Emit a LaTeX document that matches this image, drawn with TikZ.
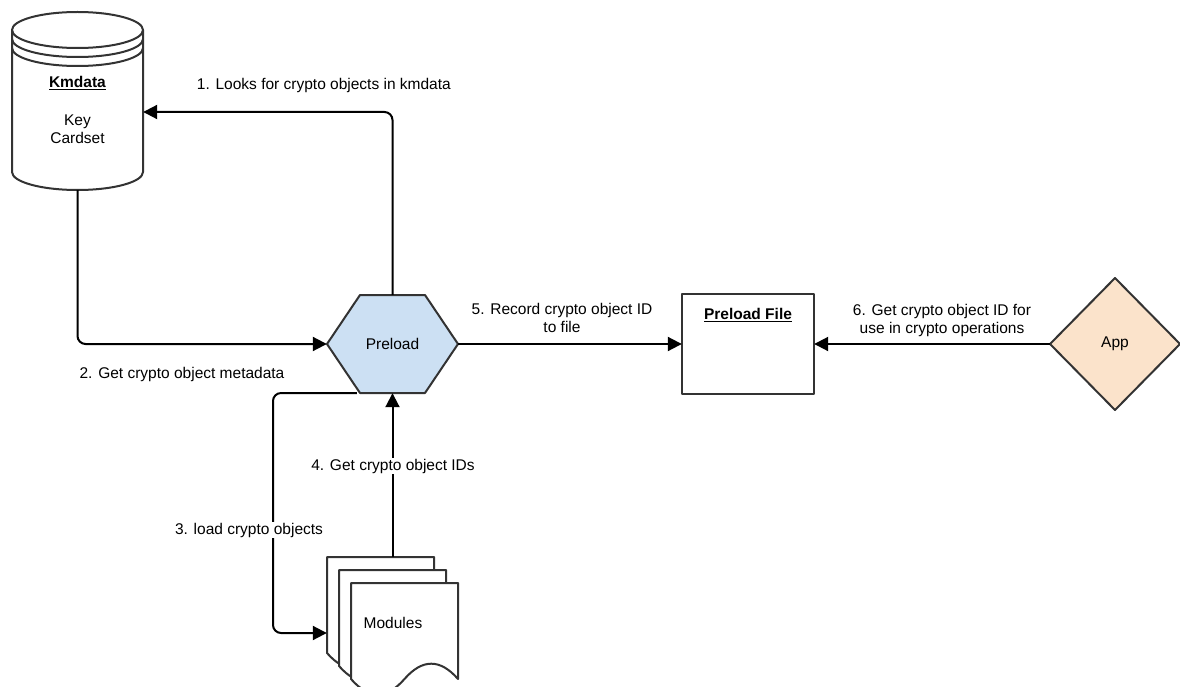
\documentclass[tikz,border=0pt]{standalone}
\usepackage{fontspec}
\setmainfont{Liberation Sans}
\usetikzlibrary{arrows.meta,calc}
\definecolor{hexfill}{HTML}{CCE0F3}
\definecolor{appfill}{HTML}{FBE3CB}
\definecolor{edge}{HTML}{333333}
\begin{document}
\begin{tikzpicture}[x=1pt,y=-1pt,
  every node/.style={font=\fontsize{15.5}{18}\selectfont, text=black, inner sep=0pt},
  shapeline/.style={draw=edge, line width=2pt, line join=round},
  conn/.style={draw=black, line width=2pt, rounded corners=8pt, -{Triangle[length=14pt,width=14pt]}},
  lbl/.style={align=center, fill=white, inner sep=1pt},
  docpic/.pic={
    \path[shapeline, fill=white] (0,0) -- (107,0) -- (107,96)
      .. controls (89.2,75.6) and (71.3,75.6) .. (53.5,96)
      .. controls (35.7,116.4) and (17.8,116.4) .. (0,96) -- cycle;
  }
]
\useasboundingbox (0,0) rectangle (1180,687);
\begin{scope}
\clip (0,0) rectangle (1180,687);

% ---- Kmdata cylinder (datastore) ----
\path[shapeline, fill=white] (12,30) -- (12,172) arc[start angle=180, end angle=0, x radius=65.5, y radius=18]
  -- (143,30) arc[start angle=0, end angle=-180, x radius=65.5, y radius=18] -- cycle;
\draw[shapeline] (12,30) arc[start angle=180, end angle=0, x radius=65.5, y radius=18];
\draw[shapeline] (12,39) arc[start angle=180, end angle=0, x radius=65.5, y radius=18];
\draw[shapeline] (12,48) arc[start angle=180, end angle=0, x radius=65.5, y radius=18];
\node[minimum width=131pt, minimum height=178pt] (km) at (77.5,101) {};
\node (kmt) at (77.5,83) {\underline{\textbf{Kmdata}}};
\node[align=center] (kmb) at (77.5,129) {Key\\Cardset};

% ---- Preload hexagon ----
\path[shapeline, fill=hexfill] (327,344) -- (360,295) -- (425,295) -- (458,344) -- (425,393) -- (360,393) -- cycle;
\node[minimum width=131pt, minimum height=98pt] (pre) at (392.5,344) {Preload};

% ---- Preload File box ----
\path[shapeline, fill=white] (682,294) rectangle (814,394);
\node[minimum width=132pt, minimum height=100pt] (pf) at (748,344) {};
\node (pft) at (748,315) {\underline{\textbf{Preload File}}};

% ---- App diamond ----
\path[shapeline, fill=appfill] (1050,344) -- (1115,278) -- (1180,344) -- (1115,410) -- cycle;
\node[minimum width=130pt, minimum height=132pt] (app) at (1115,344) {App};

% ---- Modules (multi document) ----
\pic at (327,557) {docpic};
\pic at (339,570) {docpic};
\pic at (351,583) {docpic};
\node[minimum width=131pt, minimum height=136pt] (mod) at (392.5,625) {};
\node (modt) at (393,623) {Modules};

% ---- connectors ----
\draw[conn] (pre.north) |- ([yshift=-11pt]km.east);
\draw[conn] (km.south) |- (pre.west);
\draw[conn] ([xshift=30pt]pre.south west) -- (273,393) -- (273,633) -- ([yshift=-8pt]mod.west);
\draw[conn] (mod.north) -- (pre.south);
\draw[conn] (pre.east) -- (pf.west);
\draw[conn] (app.west) -- (pf.east);

% ---- labels ----
\node[lbl, anchor=east] (l1) at (452,85) {1. Looks for crypto objects in kmdata};
\node[lbl] (l2) at (182,374) {2. Get crypto object metadata};
\node[lbl] (l3) at (249,530) {3. load crypto objects};
\node[lbl] (l4) at (393,466) {4. Get crypto object IDs};
\node[lbl] (l5) at (562,318) {5. Record crypto object ID\\to file};
\node[lbl] (l6) at (942,320) {6. Get crypto object ID for\\use in crypto operations};
\end{scope}
\end{tikzpicture}
\end{document}
